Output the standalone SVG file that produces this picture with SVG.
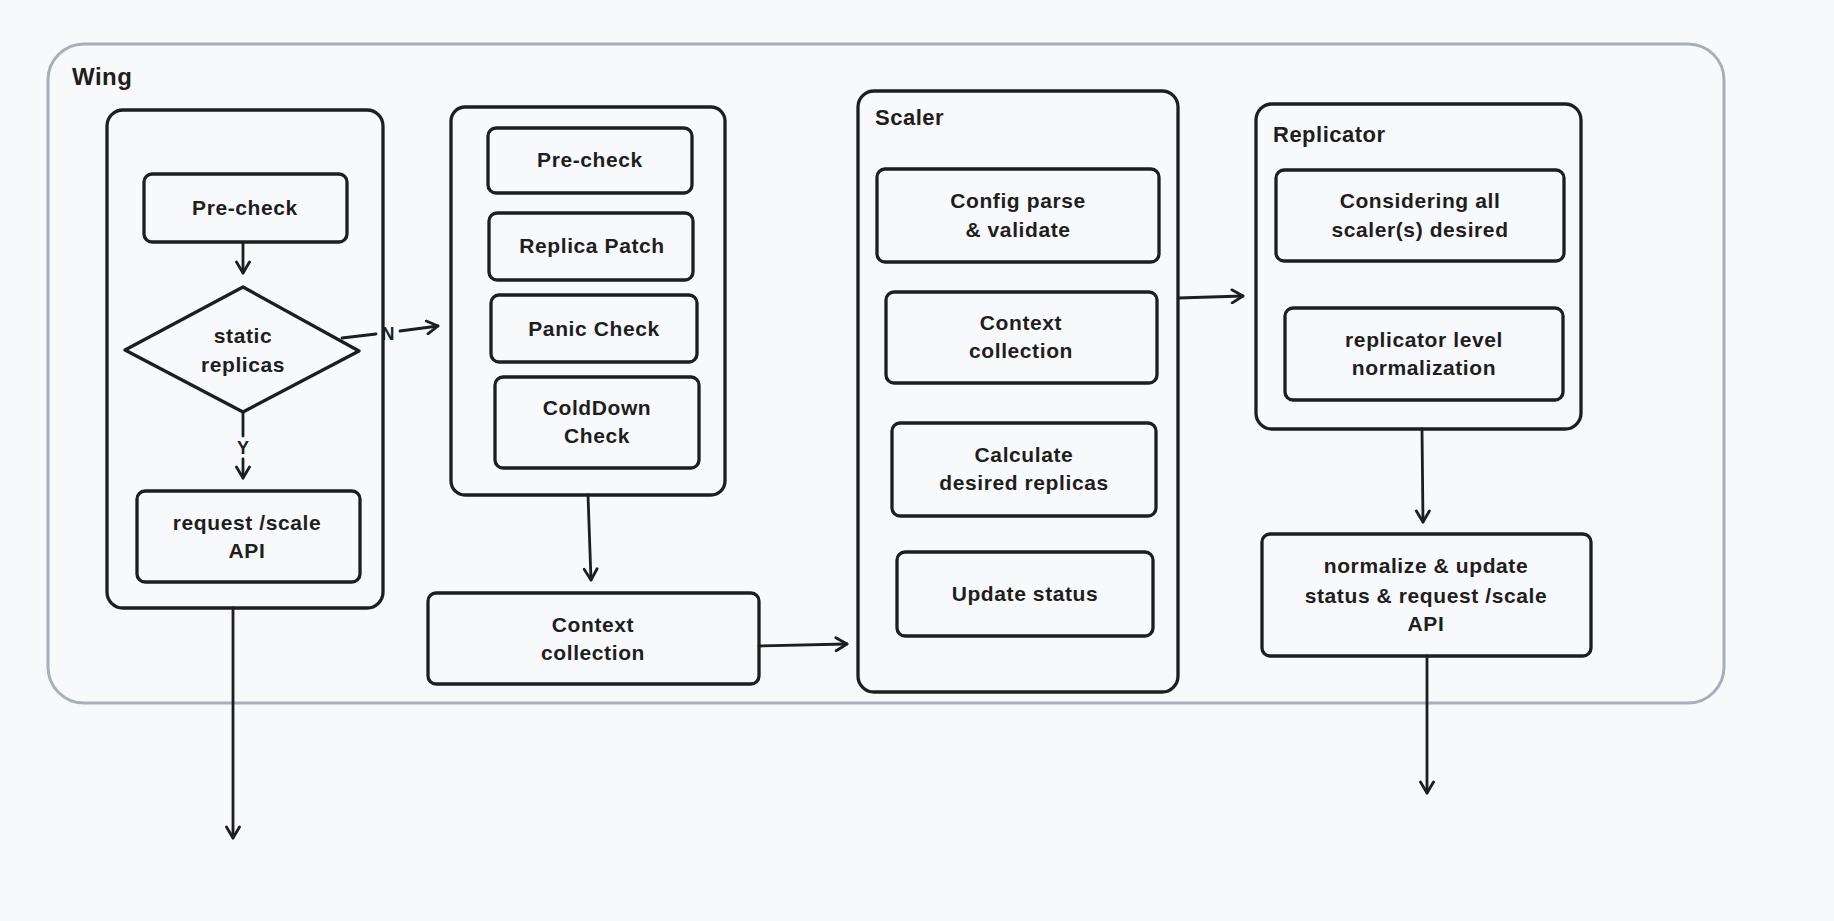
<svg xmlns="http://www.w3.org/2000/svg" width="1834" height="921" viewBox="0 0 1834 921">
  <defs>
    <style>
      .bg { fill: #f8f9fb; }
      .outer { fill: none; stroke: #a7b0ba; stroke-width: 3; }
      .box { fill: none; stroke: #1e1e1e; stroke-width: 3.3; }
      .t { font-family: "Liberation Sans", Arial, sans-serif; font-weight: bold; font-size: 21px; fill: #1e1e1e; text-anchor: middle; letter-spacing: 0.6px; }
      .lbl { font-family: "Liberation Sans", Arial, sans-serif; font-weight: bold; font-size: 22px; fill: #1e1e1e; text-anchor: start; letter-spacing: 0.5px; }
      .el { font-family: "Liberation Sans", Arial, sans-serif; font-weight: bold; font-size: 18px; fill: #1e1e1e; text-anchor: middle; }
      .conn { fill: none; stroke: #1e1e1e; stroke-width: 2.8; stroke-linecap: round; }
    </style>
    <marker id="arr" markerUnits="userSpaceOnUse" markerWidth="16" markerHeight="16" viewBox="0 0 16 16" refX="13" refY="8" orient="auto">
      <path d="M2,1.5 L13,8 L2,14.5" fill="none" stroke="#1e1e1e" stroke-width="2.8" stroke-linecap="round" stroke-linejoin="round"/>
    </marker>
  </defs>

  <rect class="bg" x="0" y="0" width="1834" height="921"/>

  <g id="wing">
    <rect class="outer" x="48" y="44" width="1676" height="659" rx="36"/>
    <text class="lbl" x="72" y="85" style="font-size:24px">Wing</text>
  </g>

  <g id="static-flow">
    <rect class="box" x="107" y="110" width="276" height="498" rx="16"/>
  </g>
  <g id="precheck-left">
    <rect class="box" x="144" y="174" width="203" height="68" rx="8"/>
    <text class="t" x="245" y="215">Pre-check</text>
  </g>
  <g id="static-replicas">
    <polygon class="box" points="243,287 359,351 243,412 125,350" stroke-linejoin="round"/>
    <text class="t" x="243" y="343">static</text>
    <text class="t" x="243" y="372">replicas</text>
  </g>
  <g id="request-left">
    <rect class="box" x="137" y="491" width="223" height="91" rx="8"/>
    <text class="t" x="247" y="530">request /scale</text>
    <text class="t" x="247" y="558">API</text>
  </g>

  <g id="checks">
    <rect class="box" x="451" y="107" width="274" height="388" rx="14"/>
  </g>
  <g id="precheck-mid">
    <rect class="box" x="488" y="128" width="204" height="65" rx="8"/>
    <text class="t" x="590" y="167">Pre-check</text>
  </g>
  <g id="replica-patch">
    <rect class="box" x="489" y="213" width="204" height="67" rx="8"/>
    <text class="t" x="592" y="253">Replica Patch</text>
  </g>
  <g id="panic-check">
    <rect class="box" x="491" y="295" width="206" height="67" rx="8"/>
    <text class="t" x="594" y="336">Panic Check</text>
  </g>
  <g id="colddown-check">
    <rect class="box" x="495" y="377" width="204" height="91" rx="8"/>
    <text class="t" x="597" y="415">ColdDown</text>
    <text class="t" x="597" y="443">Check</text>
  </g>
  <g id="context-collection-wing">
    <rect class="box" x="428" y="593" width="331" height="91" rx="8"/>
    <text class="t" x="593" y="632">Context</text>
    <text class="t" x="593" y="660">collection</text>
  </g>

  <g id="scaler">
    <rect class="box" x="858" y="91" width="320" height="601" rx="16"/>
    <text class="lbl" x="875" y="125">Scaler</text>
  </g>
  <g id="config-parse">
    <rect class="box" x="877" y="169" width="282" height="93" rx="8"/>
    <text class="t" x="1018" y="208">Config parse</text>
    <text class="t" x="1018" y="237">&amp; validate</text>
  </g>
  <g id="context-collection-scaler">
    <rect class="box" x="886" y="292" width="271" height="91" rx="8"/>
    <text class="t" x="1021" y="330">Context</text>
    <text class="t" x="1021" y="358">collection</text>
  </g>
  <g id="calculate">
    <rect class="box" x="892" y="423" width="264" height="93" rx="8"/>
    <text class="t" x="1024" y="462">Calculate</text>
    <text class="t" x="1024" y="490">desired replicas</text>
  </g>
  <g id="update-status">
    <rect class="box" x="897" y="552" width="256" height="84" rx="8"/>
    <text class="t" x="1025" y="601">Update status</text>
  </g>

  <g id="replicator">
    <rect class="box" x="1256" y="104" width="325" height="325" rx="16"/>
    <text class="lbl" x="1273" y="142">Replicator</text>
  </g>
  <g id="considering">
    <rect class="box" x="1276" y="170" width="288" height="91" rx="8"/>
    <text class="t" x="1420" y="208">Considering all</text>
    <text class="t" x="1420" y="237">scaler(s) desired</text>
  </g>
  <g id="replicator-level">
    <rect class="box" x="1285" y="308" width="278" height="92" rx="8"/>
    <text class="t" x="1424" y="347">replicator level</text>
    <text class="t" x="1424" y="375">normalization</text>
  </g>
  <g id="normalize-update">
    <rect class="box" x="1262" y="534" width="329" height="122" rx="8"/>
    <text class="t" x="1426" y="573">normalize &amp; update</text>
    <text class="t" x="1426" y="603">status &amp; request /scale</text>
    <text class="t" x="1426" y="631">API</text>
  </g>

  <g id="connectors">
    <path class="conn" d="M243,243 L243,273" marker-end="url(#arr)"/>
    <path class="conn" d="M342,338 L376,334"/>
    <path class="conn" d="M400,331 L438,326" marker-end="url(#arr)"/>
    <text class="el" x="388" y="340">N</text>
    <path class="conn" d="M243,412 L243,436"/>
    <path class="conn" d="M243,459 L243,478" marker-end="url(#arr)"/>
    <text class="el" x="243" y="454">Y</text>
    <path class="conn" d="M588,495 L591,580" marker-end="url(#arr)"/>
    <path class="conn" d="M759,646 L847,644" marker-end="url(#arr)"/>
    <path class="conn" d="M1178,298 L1243,296" marker-end="url(#arr)"/>
    <path class="conn" d="M1422,429 L1423,522" marker-end="url(#arr)"/>
    <path class="conn" d="M1427,656 L1427,793" marker-end="url(#arr)"/>
    <path class="conn" d="M233,608 L233,838" marker-end="url(#arr)"/>
  </g>
</svg>
